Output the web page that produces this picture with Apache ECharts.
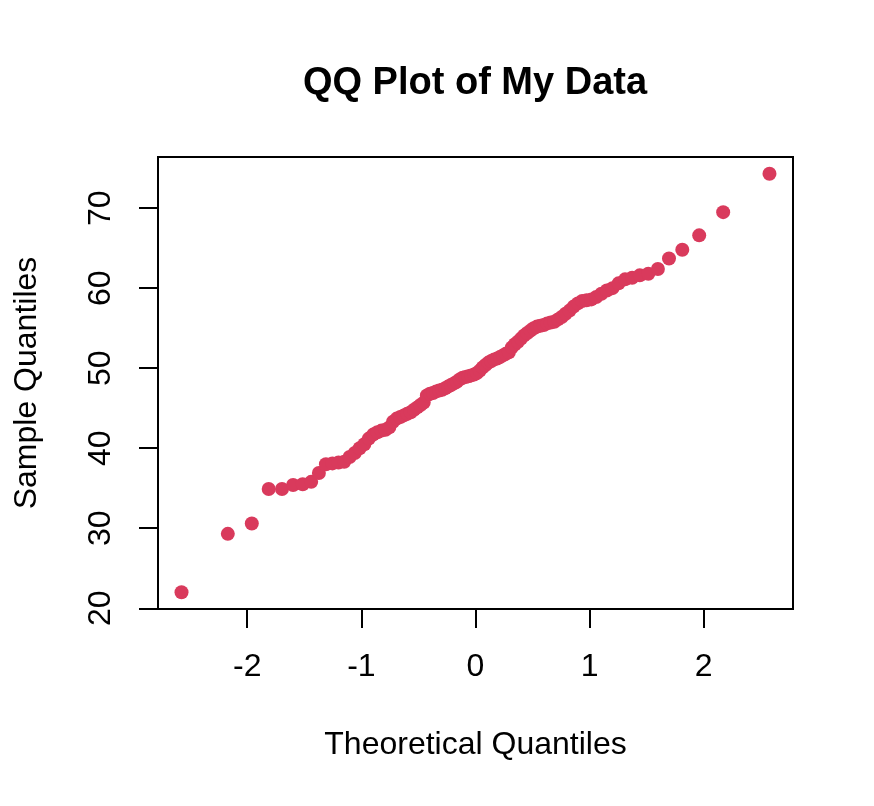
<!DOCTYPE html>
<html>
<head>
<meta charset="utf-8">
<script src="https://cdn.jsdelivr.net/npm/echarts@6/dist/echarts.min.js"></script>
<style>
html,body{margin:0;padding:0;background:#fff;}
#chart{width:874px;height:806px;}
</style>
</head>
<body>
<div id="chart"></div>
<script>
// Theoretical quantiles (normal scores) for n = 100
const theoretical = [
-2.5758,-2.1701,-1.9600,-1.8119,-1.6954,-1.5982,-1.5141,-1.4395,-1.3722,-1.3106,
-1.2536,-1.2004,-1.1503,-1.1031,-1.0581,-1.0152,-0.9741,-0.9346,-0.8965,-0.8596,
-0.8239,-0.7892,-0.7554,-0.7225,-0.6903,-0.6588,-0.6280,-0.5978,-0.5681,-0.5388,
-0.5101,-0.4817,-0.4538,-0.4261,-0.3989,-0.3719,-0.3451,-0.3186,-0.2924,-0.2663,
-0.2404,-0.2147,-0.1891,-0.1637,-0.1383,-0.1130,-0.0878,-0.0627,-0.0376,-0.0125,
0.0125,0.0376,0.0627,0.0878,0.1130,0.1383,0.1637,0.1891,0.2147,0.2404,
0.2663,0.2924,0.3186,0.3451,0.3719,0.3989,0.4261,0.4538,0.4817,0.5101,
0.5388,0.5681,0.5978,0.6280,0.6588,0.6903,0.7225,0.7554,0.7892,0.8239,
0.8596,0.8965,0.9346,0.9741,1.0152,1.0581,1.1031,1.1503,1.2004,1.2536,
1.3106,1.3722,1.4395,1.5141,1.5982,1.6954,1.8119,1.9600,2.1701,2.5758
];
// Sample quantiles (sorted data)
const sample = [
22.0,29.3,30.6,34.9,34.9,35.4,35.5,35.8,36.9,38.0,
38.1,38.2,38.3,38.9,39.4,40.0,40.5,41.2,41.7,42.0,
42.2,42.3,42.6,43.3,43.7,43.9,44.1,44.3,44.5,44.8,
45.1,45.4,45.7,46.6,46.8,46.9,47.1,47.2,47.3,47.5,
47.7,47.9,48.1,48.3,48.6,48.8,48.9,49.0,49.1,49.2,
49.4,49.7,50.1,50.4,50.7,50.9,51.1,51.2,51.4,51.6,
51.8,52.0,52.6,53.0,53.3,53.7,54.1,54.4,54.7,55.0,
55.2,55.3,55.4,55.6,55.7,55.8,56.1,56.4,56.8,57.2,
57.7,58.1,58.4,58.5,58.6,58.9,59.3,59.7,60.0,60.6,
61.1,61.3,61.6,61.8,62.4,63.7,64.8,66.6,69.5,74.3
];
const xTicks = [-2, -1, 0, 1, 2];
const yTicks = [20, 30, 40, 50, 60, 70];
const titleText = 'QQ Plot of My Data';
const xLabel = 'Theoretical Quantiles';
const yLabel = 'Sample Quantiles';

const FONT = '"Liberation Sans", Arial, Helvetica, sans-serif';
const points = theoretical.map((q, i) => [q, sample[i]]);

const xr = [Math.min(...theoretical), Math.max(...theoretical)];
const yr = [Math.min(...sample), Math.max(...sample)];
const xpad = (xr[1] - xr[0]) * 0.04, ypad = (yr[1] - yr[0]) * 0.04;

const chart = echarts.init(document.getElementById('chart'), null, {renderer: 'canvas'});
chart.setOption({
  animation: false,
  backgroundColor: '#ffffff',
  title: {
    text: titleText,
    left: 470, top: 60, textAlign: 'center',
    textStyle: {fontFamily: FONT, fontSize: 38, fontWeight: 'bold', color: '#000'}
  },
  grid: {
    left: 158, top: 157, width: 635, height: 452,
    show: true, borderColor: '#000', borderWidth: 2, backgroundColor: 'transparent',
    outerBoundsMode: 'none'
  },
  xAxis: {
    type: 'value', min: xr[0] - xpad, max: xr[1] + xpad,
    splitLine: {show: false},
    axisLine: {show: false, onZero: false},
    axisTick: {show: true, customValues: xTicks, length: 19, inside: false, lineStyle: {color: '#000', width: 2}},
    axisLabel: {show: true, customValues: xTicks, margin: 42, fontFamily: FONT, fontSize: 32, color: '#000',
      formatter: v => String(v)},
    name: xLabel, nameLocation: 'middle', nameGap: 120,
    nameTextStyle: {fontFamily: FONT, fontSize: 32, color: '#000'}
  },
  yAxis: {
    type: 'value', min: yr[0] - ypad, max: yr[1] + ypad,
    splitLine: {show: false},
    axisLine: {show: false, onZero: false},
    axisTick: {show: true, customValues: yTicks, length: 19, inside: false, lineStyle: {color: '#000', width: 2}},
    axisLabel: {show: true, customValues: yTicks, margin: 41, rotate: 90, fontFamily: FONT, fontSize: 32, color: '#000',
      formatter: v => String(v)},
    name: yLabel, nameLocation: 'middle', nameGap: 115, nameRotate: 90,
    nameTextStyle: {fontFamily: FONT, fontSize: 32, color: '#000'}
  },
  series: [{
    type: 'scatter',
    data: points,
    symbol: 'circle',
    symbolSize: 14,
    itemStyle: {color: '#D93A5C', opacity: 1},
    emphasis: {disabled: true}
  }]
});
</script>
</body>
</html>
